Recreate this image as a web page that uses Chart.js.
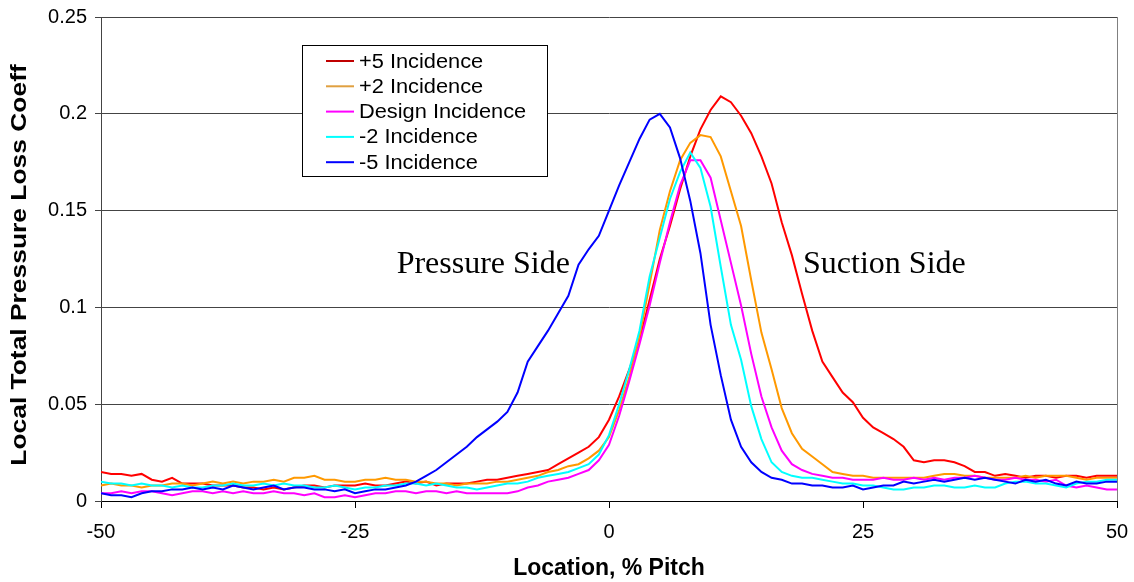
<!DOCTYPE html>
<html>
<head>
<meta charset="utf-8">
<script src="https://cdn.jsdelivr.net/npm/chart.js@4.4.1/dist/chart.umd.min.js"></script>
<style>
  html, body { margin: 0; padding: 0; background: #fff; }
  #wrap { width: 1134px; height: 582px; }
</style>
</head>
<body>
<div id="wrap"><canvas id="loss" width="1134" height="582"></canvas></div>
<script>
// location, % pitch
const location_ = [
  -50, -49, -48, -47, -46, -45, -44, -43, -42, -41, -40, -39, -38, -37, -36, -35, -34, -33, -32, -31,
  -30, -29, -28, -27, -26, -25, -24, -23, -22, -21, -20, -19, -18, -17, -16, -15, -14, -13, -12, -11,
  -10, -9, -8, -7, -6, -5, -4, -3, -2, -1, 0, 1, 2, 3, 4, 5, 6, 7, 8, 9,
  10, 11, 12, 13, 14, 15, 16, 17, 18, 19, 20, 21, 22, 23, 24, 25, 26, 27, 28, 29,
  30, 31, 32, 33, 34, 35, 36, 37, 38, 39, 40, 41, 42, 43, 44, 45, 46, 47, 48, 49, 50
];

const plus5 = [
  0.015, 0.014, 0.014, 0.013, 0.014, 0.011, 0.010, 0.012, 0.009, 0.009,
  0.009, 0.008, 0.008, 0.008, 0.007, 0.007, 0.006, 0.007, 0.006, 0.007,
  0.008, 0.008, 0.007, 0.008, 0.008, 0.008, 0.009, 0.008, 0.008, 0.009,
  0.010, 0.009, 0.010, 0.008, 0.009, 0.009, 0.009, 0.010, 0.011, 0.011,
  0.012, 0.013, 0.014, 0.015, 0.016, 0.019, 0.022, 0.025, 0.028, 0.033,
  0.042, 0.054, 0.068, 0.083, 0.104, 0.125, 0.142, 0.161, 0.178, 0.192,
  0.202, 0.209, 0.206, 0.199, 0.190, 0.178, 0.164, 0.144, 0.127, 0.107,
  0.088, 0.072, 0.064, 0.056, 0.051, 0.043, 0.038, 0.035, 0.032, 0.028,
  0.021, 0.020, 0.021, 0.021, 0.020, 0.018, 0.015, 0.015, 0.013, 0.014,
  0.013, 0.012, 0.013, 0.013, 0.012, 0.013, 0.013, 0.012, 0.013, 0.013, 0.013
];

const plus2 = [
  0.008, 0.009, 0.008, 0.008, 0.007, 0.008, 0.008, 0.009, 0.009, 0.008,
  0.009, 0.010, 0.009, 0.010, 0.009, 0.010, 0.010, 0.011, 0.010, 0.012,
  0.012, 0.013, 0.011, 0.011, 0.010, 0.010, 0.011, 0.011, 0.012, 0.011,
  0.011, 0.010, 0.010, 0.009, 0.009, 0.008, 0.009, 0.009, 0.009, 0.010,
  0.010, 0.011, 0.012, 0.013, 0.015, 0.016, 0.018, 0.019, 0.022, 0.026,
  0.033, 0.047, 0.064, 0.085, 0.112, 0.140, 0.160, 0.176, 0.185, 0.189,
  0.188, 0.178, 0.160, 0.142, 0.114, 0.087, 0.068, 0.048, 0.035, 0.027,
  0.023, 0.019, 0.015, 0.014, 0.013, 0.013, 0.012, 0.012, 0.012, 0.012,
  0.012, 0.012, 0.013, 0.014, 0.014, 0.013, 0.013, 0.012, 0.012, 0.012,
  0.012, 0.013, 0.012, 0.013, 0.013, 0.013, 0.012, 0.011, 0.012, 0.012, 0.012
];

const design = [
  0.004, 0.004, 0.005, 0.004, 0.005, 0.005, 0.004, 0.003, 0.004, 0.005,
  0.005, 0.004, 0.005, 0.004, 0.005, 0.004, 0.004, 0.005, 0.004, 0.004,
  0.003, 0.004, 0.002, 0.002, 0.003, 0.002, 0.003, 0.004, 0.004, 0.005,
  0.005, 0.004, 0.005, 0.005, 0.004, 0.005, 0.004, 0.004, 0.004, 0.004,
  0.004, 0.005, 0.007, 0.008, 0.010, 0.011, 0.012, 0.014, 0.016, 0.021,
  0.029, 0.044, 0.062, 0.081, 0.101, 0.123, 0.144, 0.163, 0.176, 0.176,
  0.167, 0.145, 0.123, 0.101, 0.076, 0.054, 0.038, 0.026, 0.019, 0.016,
  0.014, 0.013, 0.012, 0.012, 0.011, 0.011, 0.011, 0.012, 0.011, 0.011,
  0.012, 0.011, 0.012, 0.011, 0.012, 0.012, 0.013, 0.012, 0.011, 0.011,
  0.012, 0.011, 0.011, 0.010, 0.011, 0.008, 0.007, 0.008, 0.007, 0.006, 0.006
];

const minus2 = [
  0.010, 0.009, 0.009, 0.008, 0.009, 0.008, 0.008, 0.007, 0.008, 0.007,
  0.007, 0.008, 0.008, 0.009, 0.008, 0.008, 0.009, 0.008, 0.009, 0.008,
  0.008, 0.007, 0.007, 0.008, 0.007, 0.006, 0.007, 0.007, 0.008, 0.008,
  0.009, 0.009, 0.008, 0.009, 0.008, 0.007, 0.007, 0.006, 0.007, 0.008,
  0.009, 0.009, 0.010, 0.012, 0.013, 0.014, 0.015, 0.017, 0.019, 0.024,
  0.034, 0.050, 0.068, 0.088, 0.116, 0.136, 0.156, 0.170, 0.180, 0.172,
  0.152, 0.121, 0.091, 0.073, 0.049, 0.032, 0.020, 0.015, 0.013, 0.012,
  0.012, 0.011, 0.010, 0.009, 0.009, 0.008, 0.008, 0.007, 0.006, 0.006,
  0.007, 0.007, 0.008, 0.008, 0.007, 0.007, 0.008, 0.007, 0.007, 0.009,
  0.010, 0.010, 0.009, 0.009, 0.008, 0.007, 0.009, 0.010, 0.010, 0.011, 0.011
];

const minus5 = [
  0.004, 0.003, 0.003, 0.002, 0.004, 0.005, 0.005, 0.006, 0.006, 0.007,
  0.006, 0.007, 0.006, 0.008, 0.007, 0.006, 0.007, 0.008, 0.006, 0.007,
  0.007, 0.006, 0.006, 0.005, 0.006, 0.004, 0.005, 0.006, 0.006, 0.007,
  0.008, 0.010, 0.013, 0.016, 0.020, 0.024, 0.028, 0.033, 0.037, 0.041,
  0.046, 0.056, 0.072, 0.080, 0.088, 0.097, 0.106, 0.122, 0.130, 0.137,
  0.150, 0.163, 0.175, 0.187, 0.197, 0.200, 0.193, 0.177, 0.155, 0.128,
  0.091, 0.065, 0.042, 0.028, 0.020, 0.015, 0.012, 0.011, 0.009, 0.009,
  0.008, 0.008, 0.007, 0.007, 0.008, 0.006, 0.007, 0.008, 0.008, 0.010,
  0.009, 0.010, 0.011, 0.010, 0.011, 0.012, 0.011, 0.012, 0.011, 0.010,
  0.009, 0.011, 0.010, 0.011, 0.009, 0.008, 0.010, 0.009, 0.009, 0.010, 0.010
];

const seriesNames = ['+5 Incidence', '+2 Incidence', 'Design Incidence', '-2 Incidence', '-5 Incidence'];
const seriesValues = [plus5, plus2, design, minus2, minus5];
const seriesColors = ['#ff0000', '#ff9900', '#ff00ff', '#00ffff', '#0000ff'];
const legendColors = ['#c00000', '#e0a040', '#ff00ff', '#00ffff', '#0000ff'];

const yTitle = 'Local Total Pressure Loss Coeff';
const notes = [
  { text: 'Pressure Side', x: -20.9, y: 0.118 },
  { text: 'Suction Side', x: 19.1, y: 0.118 }
];

Chart.defaults.font.family = '"Liberation Sans", Arial, sans-serif';
Chart.defaults.color = '#000';

const overlay = {
  id: 'overlay',
  afterDatasetsDraw(chart) {
    const { ctx, chartArea, scales: { x, y } } = chart;
    ctx.save();
    // plot border on the right
    ctx.strokeStyle = '#808080';
    ctx.lineWidth = 1;
    ctx.beginPath();
    ctx.moveTo(chartArea.right + 0.5, chartArea.top);
    ctx.lineTo(chartArea.right + 0.5, chartArea.bottom);
    ctx.stroke();

    // side labels
    ctx.font = '32px "Liberation Serif", "Times New Roman", serif';
    ctx.fillStyle = '#000';
    ctx.textBaseline = 'alphabetic';
    ctx.textAlign = 'left';
    notes.forEach(n => ctx.fillText(n.text, x.getPixelForValue(n.x), y.getPixelForValue(n.y)));

    // y axis title, stretched along its length like the original
    ctx.save();
    ctx.translate(20, (chartArea.top + chartArea.bottom) / 2 + 6);
    ctx.rotate(-Math.PI / 2);
    ctx.scale(1.2, 1);
    ctx.font = 'bold 22px "Liberation Sans", Arial, sans-serif';
    ctx.textAlign = 'center';
    ctx.textBaseline = 'middle';
    ctx.fillText(yTitle, 0, 0);
    ctx.restore();

    // legend box
    ctx.fillStyle = '#fff';
    ctx.fillRect(302.5, 45.5, 245, 131);
    ctx.strokeStyle = '#000';
    ctx.strokeRect(302.5, 45.5, 245, 131);
    ctx.font = '20px "Liberation Sans", Arial, sans-serif';
    ctx.textBaseline = 'middle';
    seriesNames.forEach((name, i) => {
      const ly = 61 + i * 25.3;
      ctx.strokeStyle = legendColors[i];
      ctx.lineWidth = 2;
      ctx.beginPath();
      ctx.moveTo(326, ly);
      ctx.lineTo(354, ly);
      ctx.stroke();
      ctx.save();
      ctx.translate(359, ly + 1);
      ctx.scale(1.09, 1);
      ctx.fillStyle = '#000';
      ctx.fillText(name, 0, 0);
      ctx.restore();
    });
    ctx.restore();
  }
};

new Chart(document.getElementById('loss'), {
  type: 'line',
  data: {
    datasets: seriesNames.map((name, i) => ({
      label: name,
      data: location_.map((loc, j) => ({ x: loc, y: seriesValues[i][j] })),
      borderColor: seriesColors[i],
      borderWidth: 2,
      pointRadius: 0,
      tension: 0,
      fill: false,
      order: seriesNames.length - i
    }))
  },
  options: {
    responsive: false,
    devicePixelRatio: 1,
    animation: false,
    layout: { padding: { top: 17, right: 17, left: 0, bottom: 0 } },
    plugins: { legend: { display: false }, tooltip: { enabled: false } },
    scales: {
      x: {
        type: 'linear',
        min: -50,
        max: 50,
        ticks: { stepSize: 25, font: { size: 20 }, padding: 12, maxRotation: 0 },
        grid: { drawOnChartArea: false, tickLength: 7, color: '#000' },
        border: { color: '#000' },
        title: { display: true, text: 'Location, % Pitch', font: { size: 23, weight: 'bold' }, padding: { top: 5, bottom: 0 } },
        afterFit(s) { s.height = 81; s.paddingLeft = 0; s.paddingRight = 0; }
      },
      y: {
        min: 0,
        max: 0.25,
        ticks: { stepSize: 0.05, font: { size: 20 }, padding: 8, callback: v => String(+v.toFixed(2)) },
        grid: { color: '#444', tickLength: 6 },
        border: { color: '#444' },
        afterFit(s) { s.width = 101; s.paddingTop = 0; s.paddingBottom = 0; }
      }
    }
  },
  plugins: [overlay]
});
</script>
</body>
</html>
